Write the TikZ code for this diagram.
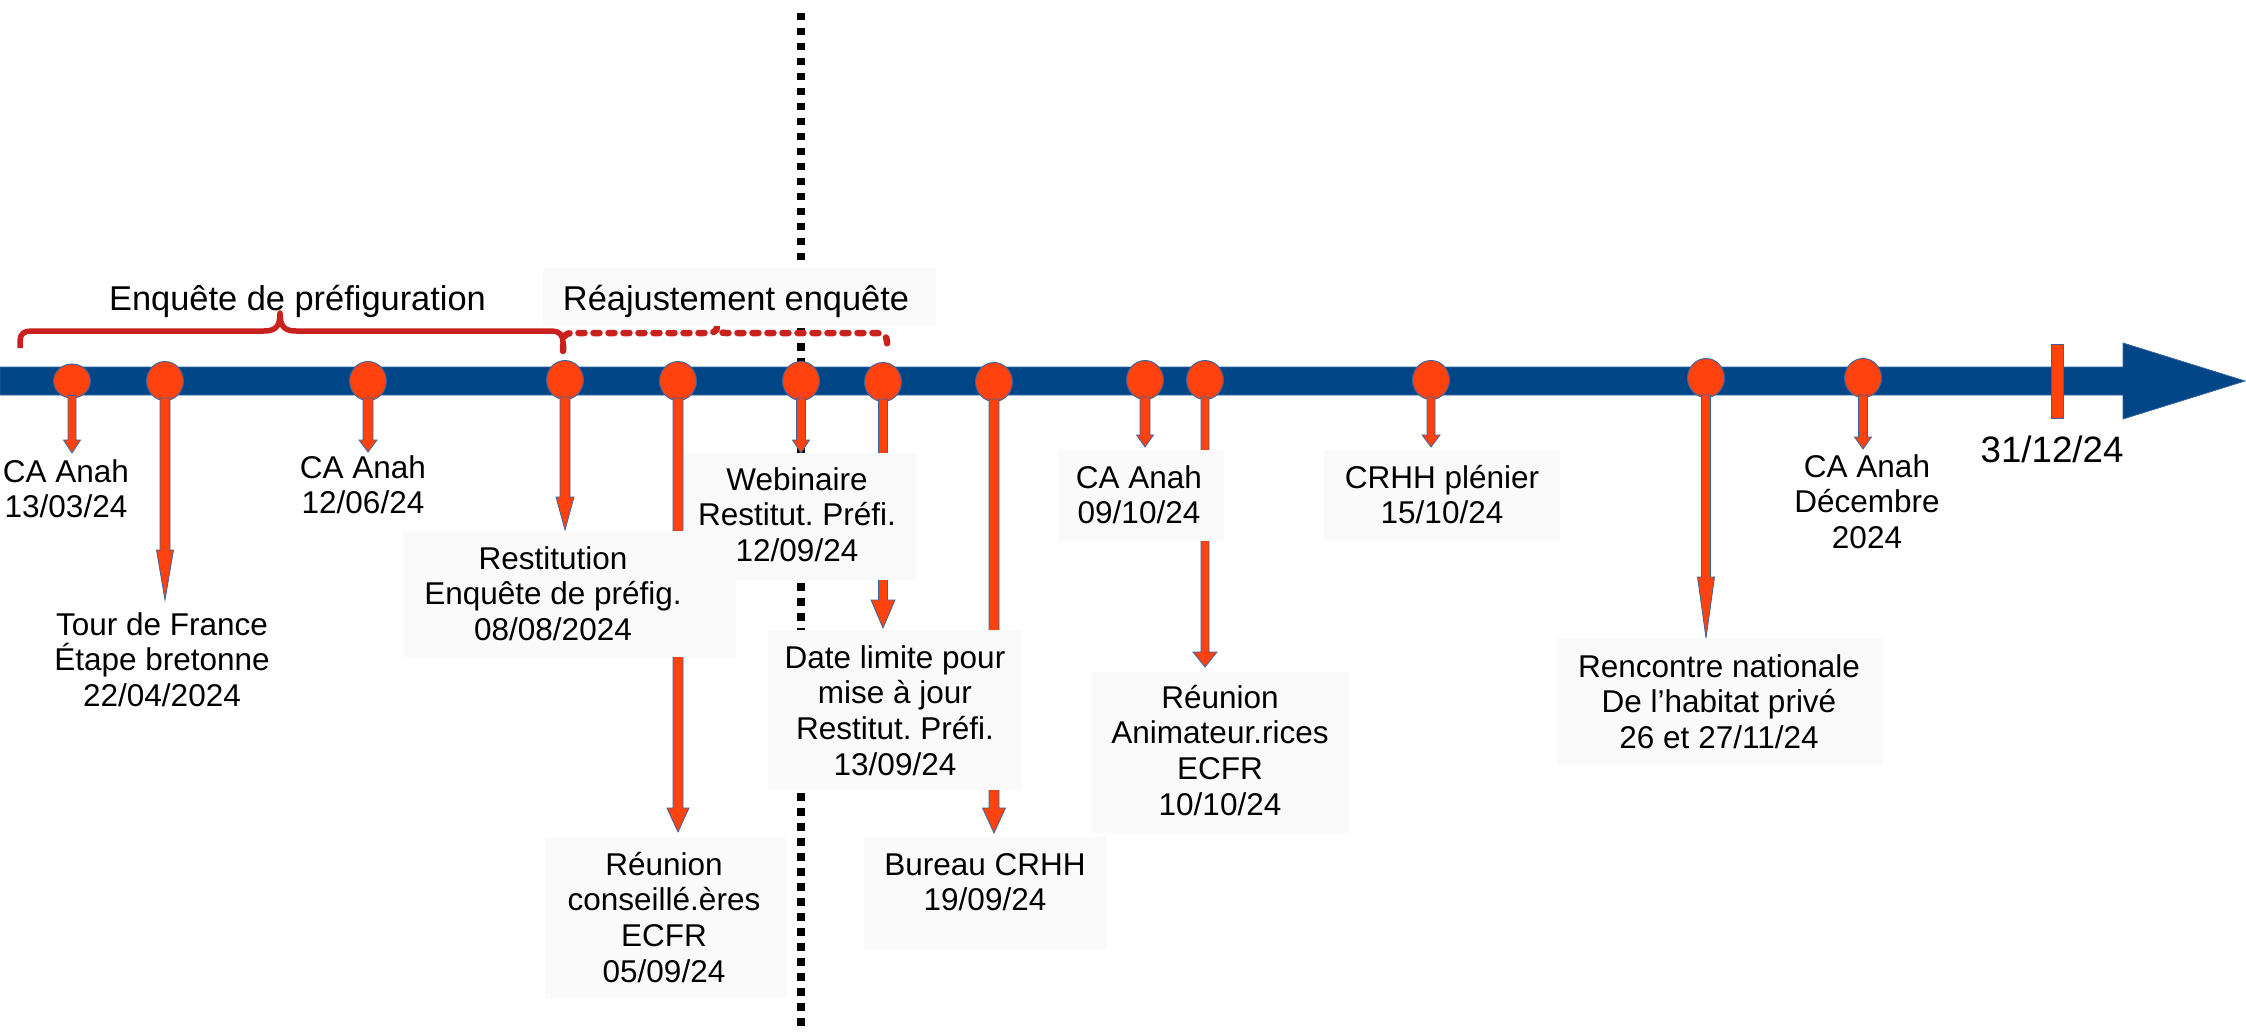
\documentclass[tikz,border=0pt]{standalone}
\usepackage{fontspec}
\setmainfont{Liberation Sans}
\frenchspacing
\usetikzlibrary{shapes.geometric,calc}
\definecolor{barblue}{HTML}{004586}
\definecolor{orng}{HTML}{FF420E}
\definecolor{edge}{HTML}{3465A4}
\definecolor{bracered}{HTML}{C9211E}
\definecolor{boxg}{HTML}{FAFAFA}
\tikzset{
  evdot/.style={ellipse, minimum width=37pt, minimum height=39pt, inner sep=0pt, fill=orng, draw=edge, line width=0.9pt},
  evarrowst/.style={fill=orng, draw=edge, line width=0.8pt, line join=miter},
  lbl/.style={align=center, inner sep=0pt, anchor=base, font=\fontsize{31.5pt}{35.7pt}\selectfont},
  bx/.style={fill=boxg, inner sep=0pt, anchor=north west},
  bracest/.style={draw=bracered, line width=5.5pt, line join=round},
  tickst/.style={rectangle, fill=orng, draw=edge, line width=0.8pt, inner sep=0pt},
}
\newcommand{\evarrow}[5]{%
  \filldraw[evarrowst] let \p1=(#1.south), \p2=(#2) in
  (\x1-#3pt,\y1+3pt) -- (\x1-#3pt,\y2+#5pt) -- (\x1-#4pt,\y2+#5pt) -- (\x1,\y2)
  -- (\x1+#4pt,\y2+#5pt) -- (\x1+#3pt,\y2+#5pt) -- (\x1+#3pt,\y1+3pt) -- cycle;}
\begin{document}
\begin{tikzpicture}[x=1pt,y=-1pt]
\useasboundingbox (0,0) rectangle (2246,1032);
% vertical dotted separator
\draw[black, line width=7.5pt, dash pattern=on 7.5pt off 7.5pt] (801,13) -- (801,1032);
% time bar
\filldraw[fill=barblue, draw=edge, line width=0.8pt] (0,367) -- (2123,367) -- (2123,343) -- (2245,381) -- (2123,419) -- (2123,395) -- (0,395) -- cycle;
\node[tickst, minimum width=12pt, minimum height=74pt] (tk) at (2057,381) {};
% braces
\draw[bracest] (20,348) -- (20,341) .. controls (20,334) and (24,331) .. (31,331) -- (264,331)
  .. controls (276,331) and (280,326) .. (280,313) .. controls (280,326) and (284,331) .. (296,331)
  -- (552,331) .. controls (559,331) and (563,335) .. (563,342) -- (563,352);
\draw[bracest, line width=6.5pt, line cap=round, dash pattern=on 6pt off 9pt] (563,351) -- (563,342)
  .. controls (563,336) and (566,333) .. (572,333) -- (708,333)
  .. controls (713,333) and (717,331) .. (717,327) .. controls (717,331) and (721,333) .. (726,333)
  -- (877,333) .. controls (883,333) and (887,336) .. (887,342) -- (887,352);
% titles
\node[lbl, font=\fontsize{34.4pt}{40pt}\selectfont] (tt1) at (297.5,310) {Enquête de préfiguration};
\node[bx, minimum width=393pt, minimum height=58pt] (tb2) at (543,268) {};
\node[lbl, font=\fontsize{34.4pt}{40pt}\selectfont] (tt2) at (736,310.7) {Réajustement enquête};
% events
\node[evdot, minimum height=34pt] (c1) at (72,381) {};
\node[evdot] (c2) at (165,381) {};
\node[evdot] (c3) at (368,381) {};
\node[evdot] (c4) at (565,380) {};
\node[evdot] (c5) at (678,381) {};
\node[evdot] (c6) at (801,381) {};
\node[evdot] (c7) at (883,382) {};
\node[evdot] (c8) at (994,382) {};
\node[evdot] (c9) at (1145,380) {};
\node[evdot] (c10) at (1205,380) {};
\node[evdot] (c11) at (1431,380) {};
\node[evdot] (c12) at (1706,378) {};
\node[evdot] (c13) at (1863,378) {};
% arrow tips
\coordinate (p1) at (72,453);
\coordinate (p2) at (165,600);
\coordinate (p3) at (368,452);
\coordinate (p4) at (565,530);
\coordinate (p5) at (678,832);
\coordinate (p6) at (801,453);
\coordinate (p7) at (883,628);
\coordinate (p8) at (994,833);
\coordinate (p9) at (1145,447);
\coordinate (p10) at (1205,667);
\coordinate (p11) at (1431,447);
\coordinate (p12) at (1706,638);
\coordinate (p13) at (1863,449);
\evarrow{c1}{p1}{4}{8.5}{13}
\evarrow{c2}{p2}{5}{8.5}{50}
\evarrow{c3}{p3}{5}{9}{12}
\evarrow{c4}{p4}{5}{9}{33}
\evarrow{c5}{p5}{5}{11}{24}
\evarrow{c6}{p6}{4.5}{8.5}{13}
\evarrow{c7}{p7}{4.5}{12}{28}
\evarrow{c8}{p8}{5}{11.5}{25}
\evarrow{c9}{p9}{5}{8.5}{12}
\evarrow{c10}{p10}{4}{12}{15}
\evarrow{c11}{p11}{4}{9}{12}
\evarrow{c12}{p12}{4.5}{8.5}{61}
\evarrow{c13}{p13}{4.5}{8.5}{12}
% boxes
\node[bx, minimum width=333pt, minimum height=126pt] (b4) at (403,531) {};
\node[bx, minimum width=231pt, minimum height=127pt] (b5) at (686,453) {};
\node[bx, minimum width=254pt, minimum height=160pt] (b6) at (768,630) {};
\node[bx, minimum width=241pt, minimum height=161pt] (b7) at (545,837) {};
\node[bx, minimum width=242pt, minimum height=113pt] (b8) at (864,837) {};
\node[bx, minimum width=166pt, minimum height=91pt] (b9) at (1058,450) {};
\node[bx, minimum width=236pt, minimum height=91pt] (b10) at (1324,450) {};
\node[bx, minimum width=259pt, minimum height=161pt] (b11) at (1091,672) {};
\node[bx, minimum width=326pt, minimum height=127pt] (b12) at (1557,638) {};
% labels (anchor = baseline of last line)
\node[lbl] (t1) at (66,517.7) {CA Anah\\13/03/24};
\node[lbl] (t2) at (162,706.4) {Tour de France\\Étape bretonne\\22/04/2024};
\node[lbl] (t3) at (363,513.7) {CA Anah\\12/06/24};
\node[lbl] (t4) at (553,640.4) {Restitution\\Enquête de préfig.\\08/08/2024};
\node[lbl] (t5) at (797,561.4) {Webinaire\\Restitut. Préfi.\\12/09/24};
\node[lbl] (t6) at (895,775.1) {Date limite pour\\mise à jour\\Restitut. Préfi.\\13/09/24};
\node[lbl] (t7) at (664,982.1) {Réunion\\conseillé.ères\\ECFR\\05/09/24};
\node[lbl] (t8) at (985,910.7) {Bureau CRHH\\19/09/24};
\node[lbl] (t9) at (1139,523.7) {CA Anah\\09/10/24};
\node[lbl] (t10) at (1442,523.7) {CRHH plénier\\15/10/24};
\node[lbl] (t11) at (1220,815.1) {Réunion\\Animateur.rices\\ECFR\\10/10/24};
\node[lbl] (t12) at (1719,748.4) {Rencontre nationale\\De l’habitat privé\\26 et 27/11/24};
\node[lbl] (t13) at (1867,548.4) {CA Anah\\Décembre\\2024};
\node[lbl, font=\fontsize{36.7pt}{42pt}\selectfont] (t14) at (2052,462) {31/12/24};
\end{tikzpicture}
\end{document}
